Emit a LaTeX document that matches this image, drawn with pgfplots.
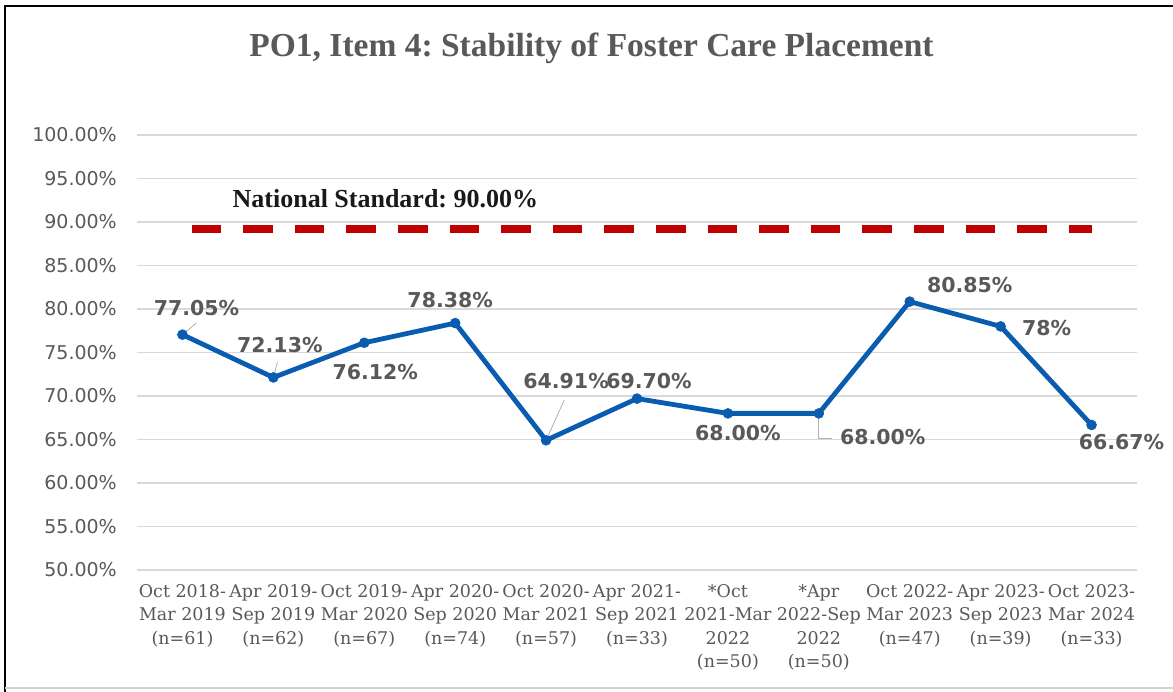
\documentclass[border=0pt]{standalone}
\usepackage{pgfplots}
\pgfplotsset{compat=1.18}
\usepackage{pgfplotstable}
\usepackage{fontspec}
\setmainfont{Liberation Serif}
\newfontfamily\labfont{DejaVu Sans}
\newfontfamily\xfont{DejaVu Serif}
\definecolor{txtgray}{HTML}{595959}
\definecolor{gridgray}{HTML}{D9D9D9}
\definecolor{serblue}{HTML}{0A5CB0}
\definecolor{stdred}{HTML}{C00000}
\frenchspacing

\pgfplotstableread{
x y dx dy lab
0 77.05 14 27 77.05\%
1 72.13 6.5 32.5 72.13\%
2 76.12 11 -29 76.12\%
3 78.38 -5 23 78.38\%
4 64.91 20 59 64.91\%
5 69.70 12 18 69.70\%
6 68.00 10 -20 68.00\%
7 68.00 64 -24 68.00\%
8 80.85 60 17 80.85\%
9 78.00 46 -2 78\%
10 66.67 30 -17 66.67\%
}\datatable

\pgfplotstableread{
x y
0.1 89.2
10 89.2
}\stdtable

\begin{document}
\begin{tikzpicture}
\path[use as bounding box] (0pt,0pt) rectangle (1173pt,692pt);
\fill[white] (0pt,0pt) rectangle (1173pt,692pt);
\draw[black, line width=2pt] (5pt,0pt) -- (5pt,686pt) -- (1173pt,686pt);
\draw[gray!35, line width=1.5pt] (5pt,4pt) -- (1173pt,4pt);
\node[anchor=base, font=\bfseries\fontsize{33.5}{38}\selectfont, text=txtgray] at (591.5pt,635pt) {PO1, Item 4: Stability of Foster Care Placement};
\begin{axis}[
  at={(137pt,122pt)}, anchor=south west,
  scale only axis, width=1000pt, height=435pt,
  xmin=-0.5, xmax=10.5, ymin=50, ymax=100,
  axis line style={draw=none},
  major tick length=0pt,
  ytick={50,55,...,100},
  yticklabels={50.00\%,55.00\%,60.00\%,65.00\%,70.00\%,75.00\%,80.00\%,85.00\%,90.00\%,95.00\%,100.00\%},
  yticklabel style={font=\labfont\fontsize{19}{22}\selectfont, text=txtgray, inner sep=0pt, xshift=-20pt},
  xtick={0,...,10},
  xticklabels={{Oct 2018-\\Mar 2019\\(n=61)},{Apr 2019-\\Sep 2019\\(n=62)},{Oct 2019-\\Mar 2020\\(n=67)},{Apr 2020-\\Sep 2020\\(n=74)},{Oct 2020-\\Mar 2021\\(n=57)},{Apr 2021-\\Sep 2021\\(n=33)},{*Oct\\2021-Mar\\2022\\(n=50)},{*Apr\\2022-Sep\\2022\\(n=50)},{Oct 2022-\\Mar 2023\\(n=47)},{Apr 2023-\\Sep 2023\\(n=39)},{Oct 2023-\\Mar 2024\\(n=33)}},
  xticklabel style={font=\xfont\fontsize{17.5}{23.5}\selectfont, text=txtgray, align=center, inner sep=0pt, yshift=-14pt},
  ymajorgrids, grid style={gridgray, line width=1.3pt},
  clip=false,
]
\addplot[stdred, line width=8pt, dash pattern=on 29.6pt off 22pt, forget plot] table[x=x,y=y] {\stdtable};
\node[anchor=base west, inner sep=0pt, font=\bfseries\fontsize{26}{30}\selectfont, text=black!90] at (axis cs:0.55,91.72) {National Standard: 90.00\%};
\draw[gray!60, line width=0.8pt] (axis cs:0,77.05) -- (axis cs:0.154,78.39);
\draw[gray!60, line width=0.8pt] (axis cs:1,72.13) -- (axis cs:1.045,73.91);
\draw[gray!60, line width=0.8pt] (axis cs:4,64.91) -- (axis cs:4.2,69.54);
\draw[gray!60, line width=0.8pt] (axis cs:7,67.6) -- (axis cs:7,65.17) -- (axis cs:7.15,65.17);
\addplot[serblue, line width=4.8pt, line join=round, mark=*, mark size=5pt,
  mark options={solid, fill=serblue, draw=serblue, line width=0.5pt},
  nodes near coords, point meta=explicit symbolic,
  visualization depends on={\thisrow{dx} \as \dx},
  visualization depends on={\thisrow{dy} \as \dy},
  every node near coord/.append style={anchor=center, inner sep=0pt, xshift=\dx, yshift=\dy, font=\labfont\bfseries\fontsize{20.5}{24}\selectfont, text=txtgray}
] table[x=x, y=y, meta=lab] {\datatable};
\end{axis}
\end{tikzpicture}
\end{document}
